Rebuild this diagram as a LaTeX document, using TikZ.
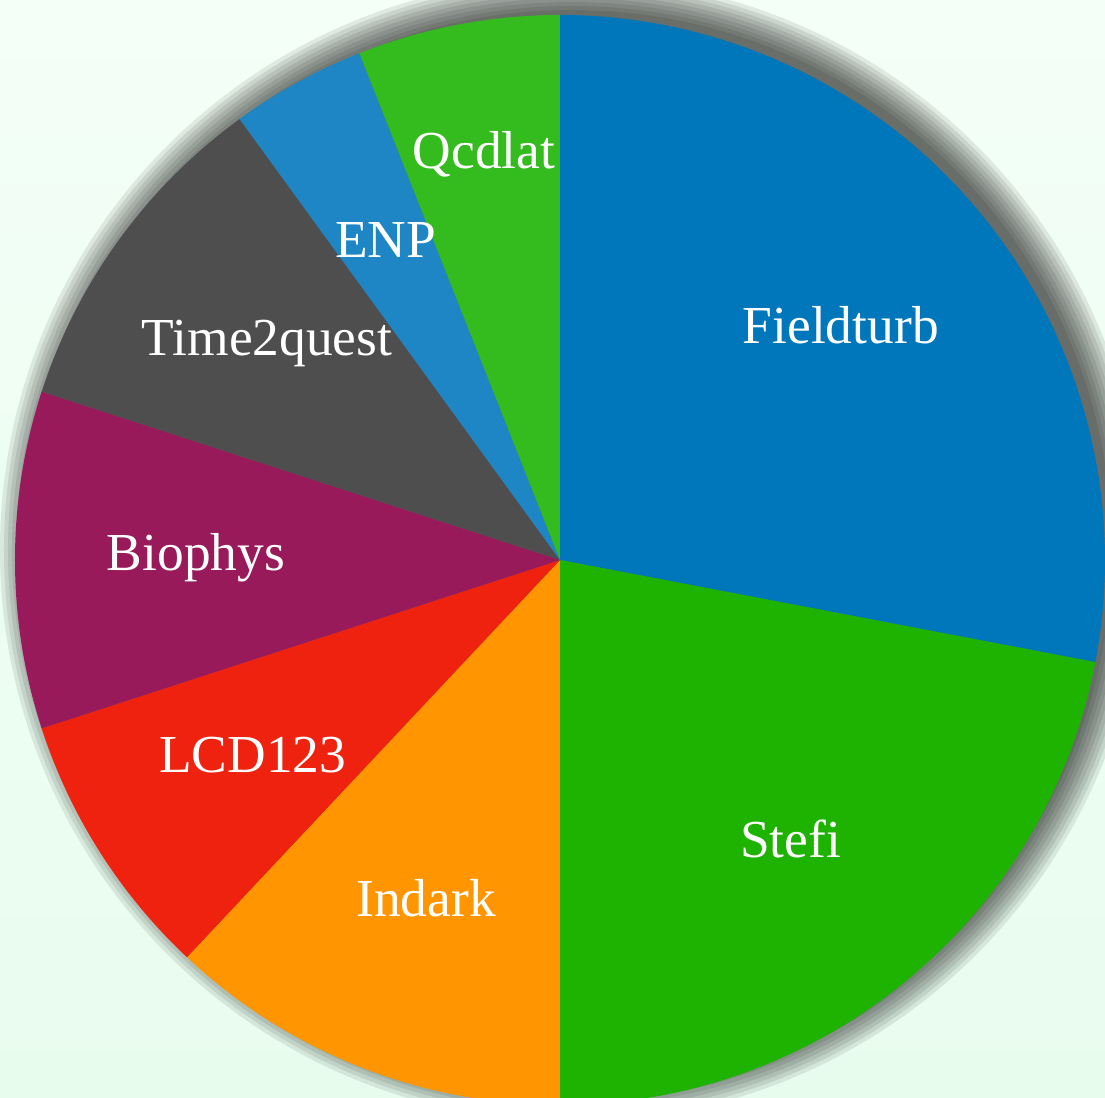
\documentclass[tikz,border=0pt]{standalone}
\usepackage{fontspec}
\setmainfont{Liberation Serif}

\definecolor{fieldturbcol}{HTML}{0077BB}
\definecolor{steficol}{HTML}{1EB300}
\definecolor{indarkcol}{HTML}{FF9500}
\definecolor{lcdcol}{HTML}{EE220E}
\definecolor{biophyscol}{HTML}{991A5A}
\definecolor{timecol}{HTML}{4E4E4E}
\definecolor{enpcol}{HTML}{1E86C4}
\definecolor{qcdlatcol}{HTML}{34BB1E}
\definecolor{bgtop}{HTML}{F4FFF7}
\definecolor{bgbottom}{HTML}{E8FCEE}

\tikzset{
  lbl/.style={text=white, font=\fontsize{15.2}{15.2}\selectfont, inner sep=0pt},
  shadowring/.style={fill=black, opacity=0.085}
}

\begin{document}
\begin{tikzpicture}
        % background
        \shade[top color=bgtop, bottom color=bgbottom] (-5.6,-5.38) rectangle (5.45,5.6);
        \useasboundingbox (-5.6,-5.38) rectangle (5.45,5.6);

        % shadow
        \fill[shadowring] (0.12,0.1) circle (5.40);
        \fill[shadowring] (0.12,0.1) circle (5.44);
        \fill[shadowring] (0.12,0.1) circle (5.48);
        \fill[shadowring] (0.12,0.1) circle (5.52);
        \fill[shadowring] (0.12,0.1) circle (5.56);
        \fill[shadowring] (0.12,0.1) circle (5.60);
        \fill[shadowring] (0.12,0.1) circle (5.64);
        \fill[shadowring] (0.12,0.1) circle (5.68);
        \fill[shadowring] (0.12,0.1) circle (5.72);

        % slices
        \coordinate (o) at (0,0);
        \fill[fieldturbcol] (o) -- (90:5.45) arc[start angle=90, end angle=-10.8, radius=5.45] -- cycle;
        \fill[steficol] (o) -- (-10.8:5.45) arc[start angle=-10.8, end angle=-90, radius=5.45] -- cycle;
        \fill[indarkcol] (o) -- (-90:5.45) arc[start angle=-90, end angle=-133.2, radius=5.45] -- cycle;
        \fill[lcdcol] (o) -- (-133.2:5.45) arc[start angle=-133.2, end angle=-162, radius=5.45] -- cycle;
        \fill[biophyscol] (o) -- (-162:5.45) arc[start angle=-162, end angle=-198, radius=5.45] -- cycle;
        \fill[timecol] (o) -- (-198:5.45) arc[start angle=-198, end angle=-234, radius=5.45] -- cycle;
        \fill[enpcol] (o) -- (-234:5.45) arc[start angle=-234, end angle=-248.4, radius=5.45] -- cycle;
        \fill[qcdlatcol] (o) -- (-248.4:5.45) arc[start angle=-248.4, end angle=-270, radius=5.45] -- cycle;

        % labels
        \node[lbl] (fieldturb) at (39.9:3.66) {Fieldturb};
        \node[lbl] (stefi) at (-50.4:3.62) {Stefi};
        \node[lbl] (indark) at (-111.6:3.64) {Indark};
        \node[lbl] (lcd) at (-147.6:3.64) {LCD123};
        \node[lbl] (biophys) at (179.6:3.64) {Biophys};
        \node[lbl] (timequest) at (143.6:3.64) {Time2quest};
        \node[lbl] (enp) at (118.6:3.64) {ENP};
        \node[lbl] (qcdlat) at (100.6:4.13) {Qcdlat};
    \end{tikzpicture}
\end{document}
